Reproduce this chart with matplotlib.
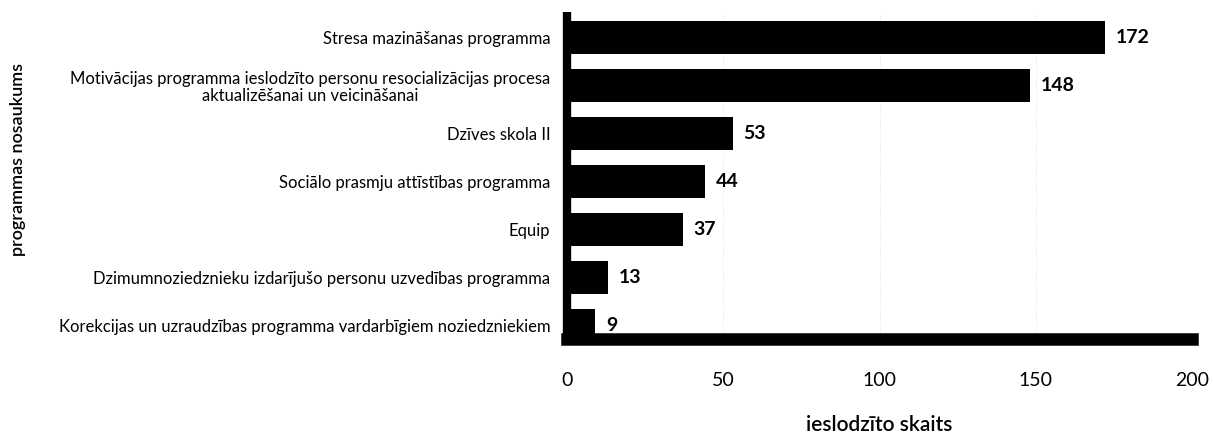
import matplotlib
matplotlib.use("Agg")
import matplotlib.pyplot as plt

categories = [
    "Stresa mazināšanas programma",
    "Motivācijas programma ieslodzīto personu resocializācijas procesa\naktualizēšanai un veicināšanai",
    "Dzīves skola II",
    "Sociālo prasmju attīstības programma",
    "Equip",
    "Dzimumnoziedznieku izdarījušo personu uzvedības programma",
    "Korekcijas un uzraudzības programma vardarbīgiem noziedzniekiem",
]
values = [172, 148, 53, 44, 37, 13, 9]
xticks = [0, 50, 100, 150, 200]

plt.rcParams['font.family'] = ['Lato', 'DejaVu Sans']

fig = plt.figure(figsize=(12.13, 4.36), dpi=100)
ax = fig.add_axes([567/1213, 1-339/436, (1192-567)/1213, (339-12)/436])

pos = list(range(len(categories)))
ax.barh(pos, values, height=0.69, color='black', zorder=3)
for p, v in zip(pos, values):
    ax.text(v + 3.5, p, str(v), va='center', ha='left', fontsize=14,
            fontweight='bold', color='black')

ax.set_xlim(0, 200)
ax.set_ylim(len(categories) - 1 + 0.29, -0.54)
ax.set_yticks(pos)
ax.set_yticklabels(categories, fontsize=12, linespacing=1.05, multialignment='center')
ax.set_xticks(xticks)
ax.set_xticklabels([str(t) for t in xticks], fontsize=14)
ax.tick_params(axis='y', length=0, pad=12)
ax.tick_params(axis='x', length=0, pad=24)
for lab in ax.get_yticklabels():
    lab.set_horizontalalignment('right')

ax.xaxis.grid(True, color='#dddddd', linestyle=':', linewidth=0.6, zorder=0)
ax.spines['top'].set_visible(False)
ax.spines['right'].set_visible(False)
ax.spines['left'].set_linewidth(6)
ax.spines['bottom'].set_linewidth(9)
ax.spines['left'].set_capstyle('butt')

ax.set_xlabel("ieslodzīto skaits", fontsize=15, fontweight='semibold', va='center')
ax.xaxis.set_label_coords(0.5, (339 - 425) / 327)
ax.set_ylabel("programmas nosaukums", fontsize=13, fontweight='semibold', va='center')
ax.yaxis.set_label_coords((18 - 567) / 625, 1 - (160 - 12) / 327)

fig.savefig("out.png", dpi=100)
